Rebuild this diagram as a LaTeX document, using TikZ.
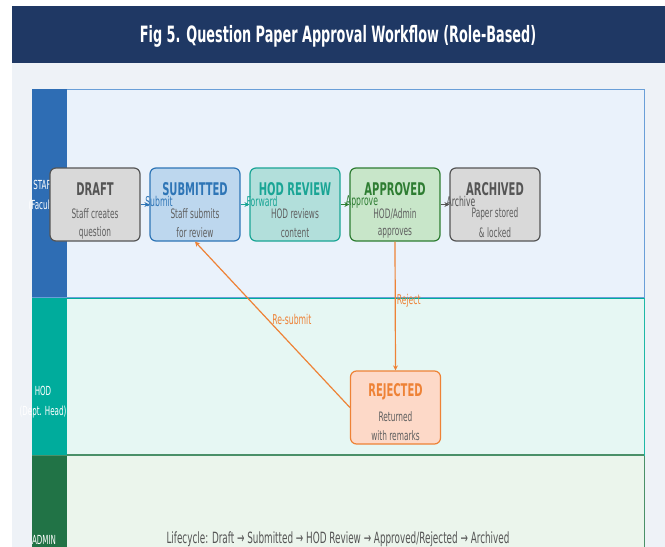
\documentclass[tikz,border=0pt]{standalone}
\usepackage{fontspec}
\setmainfont{DejaVu Sans}[FakeStretch=0.57]
\usetikzlibrary{arrows.meta}

\definecolor{navy}{HTML}{1F3864}
\definecolor{pagebg}{HTML}{EEF2F7}
\definecolor{staffbar}{HTML}{2E6DB4}
\definecolor{stafffill}{HTML}{EAF2FB}
\definecolor{staffline}{HTML}{6A9FD8}
\definecolor{hodbar}{HTML}{00AC9C}
\definecolor{hodfill}{HTML}{E6F7F3}
\definecolor{hodline}{HTML}{1FB8A6}
\definecolor{adminbar}{HTML}{217346}
\definecolor{adminfill}{HTML}{EBF5EC}
\definecolor{adminline}{HTML}{4A9068}
\definecolor{grayfill}{HTML}{D9D9D9}
\definecolor{grayline}{HTML}{555555}
\definecolor{bluefill}{HTML}{BDD7EE}
\definecolor{blueline}{HTML}{2E75B6}
\definecolor{tealfill}{HTML}{B2DFDB}
\definecolor{tealline}{HTML}{1AA595}
\definecolor{greenfill}{HTML}{C8E6C9}
\definecolor{greenline}{HTML}{2E7D32}
\definecolor{orangefill}{HTML}{FDD9C8}
\definecolor{orangeline}{HTML}{EE8236}
\definecolor{subtext}{HTML}{606060}

\tikzset{
  box/.style={draw, rounded corners=6pt, line width=1.2pt, minimum width=90pt,
    minimum height=73pt, inner sep=0pt},
  boxtitle/.style={font=\fontsize{17.5}{17.5}\selectfont\bfseries, inner sep=0pt},
  boxsub/.style={font=\fontsize{13}{13}\selectfont, text=subtext, inner sep=0pt},
  flow/.style={line width=1.2pt, -{Stealth[length=5pt,width=5pt]}},
  flowlabel/.style={font=\fontsize{13.5}{13.5}\selectfont, inner sep=0pt},
  lanelabel/.style={font=\fontsize{12.5}{12.5}\selectfont, text=white, align=center, inner sep=0pt},
}

% one state: name, centre x, centre y, fill, line, title, two lines of text
\newcommand{\stagebox}[8]{%
  \node[box, fill=#4, draw=#5] (#1) at (#2,#3) {};
  \node[boxtitle, text=#5] (#1-t) at ([yshift=15.5pt]#1.center) {#6};
  \node[boxsub] (#1-a) at ([yshift=-9.5pt]#1.center) {#7};
  \node[boxsub] (#1-b) at ([yshift=-28.5pt]#1.center) {#8};
}

\begin{document}
\begin{tikzpicture}[x=1pt, y=-1pt]
  \useasboundingbox (0,0) rectangle (665,547);
  \fill[white] (0,0) rectangle (665,547);
  % page background and heading band
  \fill[pagebg] (12,62) rectangle (665,547);
  \fill[navy] (12,6) rectangle (665,63);
  \node[font=\fontsize{22.5}{22.5}\selectfont\bfseries, text=white, inner sep=0pt] (heading)
    at (338,36) {Fig 5. Question Paper Approval Workflow (Role-Based)};

  % swim lanes
  \filldraw[fill=adminfill, draw=adminline, line width=1pt] (32,455) rectangle (644,560);
  \filldraw[fill=hodfill, draw=hodline, line width=1pt] (32,298) rectangle (644,455);
  \filldraw[fill=stafffill, draw=staffline, line width=1pt] (32,89) rectangle (644,297);
  \draw[hodbar, line width=1.5pt] (32,298.5) -- (644,298.5);
  \draw[adminline, line width=2pt] (32,455) -- (644,455);
  \fill[staffbar] (32,89) rectangle (67,297);
  \fill[hodbar] (32,299) rectangle (67,455);
  \fill[adminbar] (32,456) rectangle (67,560);
  \node[lanelabel] (lane-staff) at (44,196) {STAFF\\[8pt](Faculty)};
  \node[lanelabel] (lane-hod) at (43,402) {HOD\\[7pt](Dept. Head)};
  \node[lanelabel] (lane-admin) at (44,540) {ADMIN};

  % states
  \stagebox{draft}{95}{204.5}{grayfill}{grayline}{DRAFT}{Staff creates}{question}
  \stagebox{submitted}{195}{204.5}{bluefill}{blueline}{SUBMITTED}{Staff submits}{for review}
  \stagebox{review}{295}{204.5}{tealfill}{tealline}{HOD REVIEW}{HOD reviews}{content}
  \stagebox{approved}{395}{204.5}{greenfill}{greenline}{APPROVED}{HOD/Admin}{approves}
  \stagebox{archived}{495}{204.5}{grayfill}{grayline}{ARCHIVED}{Paper stored}{\& locked}
  \stagebox{rejected}{395.5}{407.5}{orangefill}{orangeline}{REJECTED}{Returned}{with remarks}

  % transitions
  \draw[flow, blueline] (draft.east) -- node[flowlabel, text=blueline, xshift=14pt, yshift=3pt] {Submit} (submitted.west);
  \draw[flow, tealline] (submitted.east) -- node[flowlabel, text=tealline, xshift=17pt, yshift=3pt] {Forward} (review.west);
  \draw[flow, greenline] (review.east) -- node[flowlabel, text=greenline, xshift=17pt, yshift=3pt] {Approve} (approved.west);
  \draw[flow, grayline] (approved.east) -- node[flowlabel, text=grayline, xshift=16pt, yshift=3pt] {Archive} (archived.west);
  \draw[flow, orangeline] (approved.south) -- node[flowlabel, text=orangeline, pos=0.46, anchor=west, xshift=1pt] {Reject} (rejected.north);
  \draw[flow, orangeline] (rejected.west) -- node[flowlabel, text=orangeline, pos=0.53, anchor=west, xshift=4pt] {Re-submit} (submitted.south);

  % lifecycle summary
  \node[font=\fontsize{15.5}{15.5}\selectfont, text=grayline, inner sep=0pt] (lifecycle)
    at (338,539) {Lifecycle: Draft → Submitted → HOD Review → Approved/Rejected → Archived};
\end{tikzpicture}
\end{document}
